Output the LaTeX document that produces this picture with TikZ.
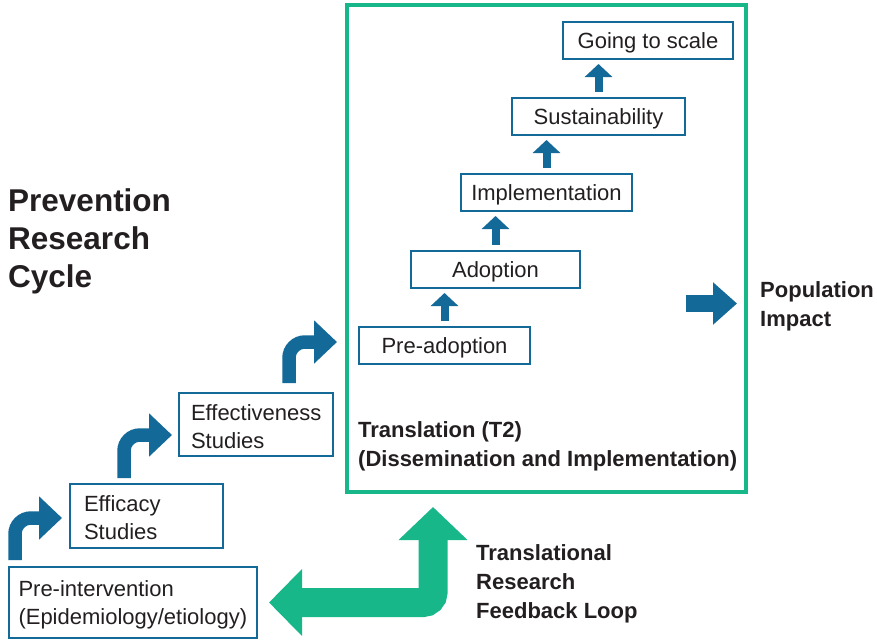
\documentclass[tikz,border=0pt]{standalone}
\usepackage{fontspec}
\setmainfont{Liberation Sans}
\usetikzlibrary{arrows.meta}
\definecolor{bluec}{RGB}{19,105,152}
\definecolor{greenc}{RGB}{24,183,138}
\definecolor{txt}{RGB}{35,31,32}
\begin{document}
\begin{tikzpicture}[x=1pt,y=-1pt,
  box/.style={draw=bluec, line width=2pt, minimum height=37pt, minimum width=171pt, inner sep=0pt, text height=15.5pt, text depth=0pt, font=\fontsize{22}{28}\selectfont, text=txt},
  lbox/.style={draw=bluec, line width=2pt, inner ysep=0pt, align=left, font=\fontsize{22}{28}\selectfont, text=txt},
  uparr/.style={draw=bluec, line width=8pt, -{Triangle[length=13pt,width=27pt]}, shorten <=5pt, shorten >=4pt},
  bendarr/.style={draw=bluec, line width=13.5pt, rounded corners=16pt, -{Triangle[length=23pt,width=42pt]}},
  btext/.style={font=\fontsize{22}{29}\selectfont\bfseries, text=txt, align=left, inner sep=0pt, anchor=west},
]
\useasboundingbox (0,0) rectangle (877,640);

% big translation frame
\node[draw=greenc, line width=4pt, minimum width=399pt, minimum height=487pt, inner sep=0pt] (frame) at (546.5,248.5) {};

% stage boxes inside the frame
\node[box, minimum width=170pt] (going) at (648,40.5) {Going to scale};
\node[box, minimum width=173pt] (sust) at (598.5,116.5) {Sustainability};
\node[box] (impl) at (546.5,192.5) {Implementation};
\node[box, minimum width=169pt] (adopt) at (495.5,269.5) {Adoption};
\node[box] (pread) at (444.5,345.5) {Pre-adoption};

\draw[uparr] (pread.north) -- (pread.north |- adopt.south);
\draw[uparr] (adopt.north) -- (adopt.north |- impl.south);
\draw[uparr] (impl.north) -- (impl.north |- sust.south);
\draw[uparr] (sust.north) -- (sust.north |- going.south);

% left boxes
\node[lbox, inner xsep=12pt, text width=130pt, minimum height=63pt] (effect) at (256,424.5) {\rule{0pt}{20pt}Effectiveness\\Studies};
\node[lbox, inner xsep=14pt, text width=125pt, minimum height=64pt] (effic) at (146.5,516) {\rule{0pt}{20pt}Efficacy\\Studies};
\node[lbox, inner xsep=9.5pt, text width=229pt, minimum height=71pt] (preint) at (133,602.5) {\rule{0pt}{20pt}Pre-intervention\\(Epidemiology/etiology)};

% bent blue arrows
\coordinate (b1s) at (15,560);
\coordinate (b1e) at (62,518);
\coordinate (b2s) at (124,478);
\coordinate (b2e) at (172,435);
\coordinate (b3s) at (289,383);
\coordinate (b3e) at (337,342);
\draw[bendarr] (b1s) |- (b1e);
\draw[bendarr] (b2s) |- (b2e);
\draw[bendarr] (b3s) |- (b3e);

% population impact arrow
\coordinate (ps) at (686,303.5);
\coordinate (pe) at (737,303.5);
\draw[draw=bluec, line width=17pt, -{Triangle[length=24pt,width=41pt]}] (ps) -- (pe);

% feedback loop arrow
\coordinate (fbl) at (269,602.5);
\coordinate (fbt) at (433,507);
\draw[draw=greenc, line width=29pt, rounded corners=10pt,
  {Triangle[length=33pt,width=65pt]}-{Triangle[length=33pt,width=67pt]}] (fbl) -| (fbt);

% texts
\node[btext, font=\fontsize{31.5}{38}\selectfont\bfseries] (title) at (8,241) {Prevention\\Research\\Cycle};
\node[btext] (trans) at (358,446.5) {Translation (T2)\\(Dissemination and Implementation)};
\node[btext] (pop) at (760,306) {Population\\Impact};
\node[btext] (loop) at (476,583.5) {Translational\\Research\\Feedback Loop};
\end{tikzpicture}
\end{document}
